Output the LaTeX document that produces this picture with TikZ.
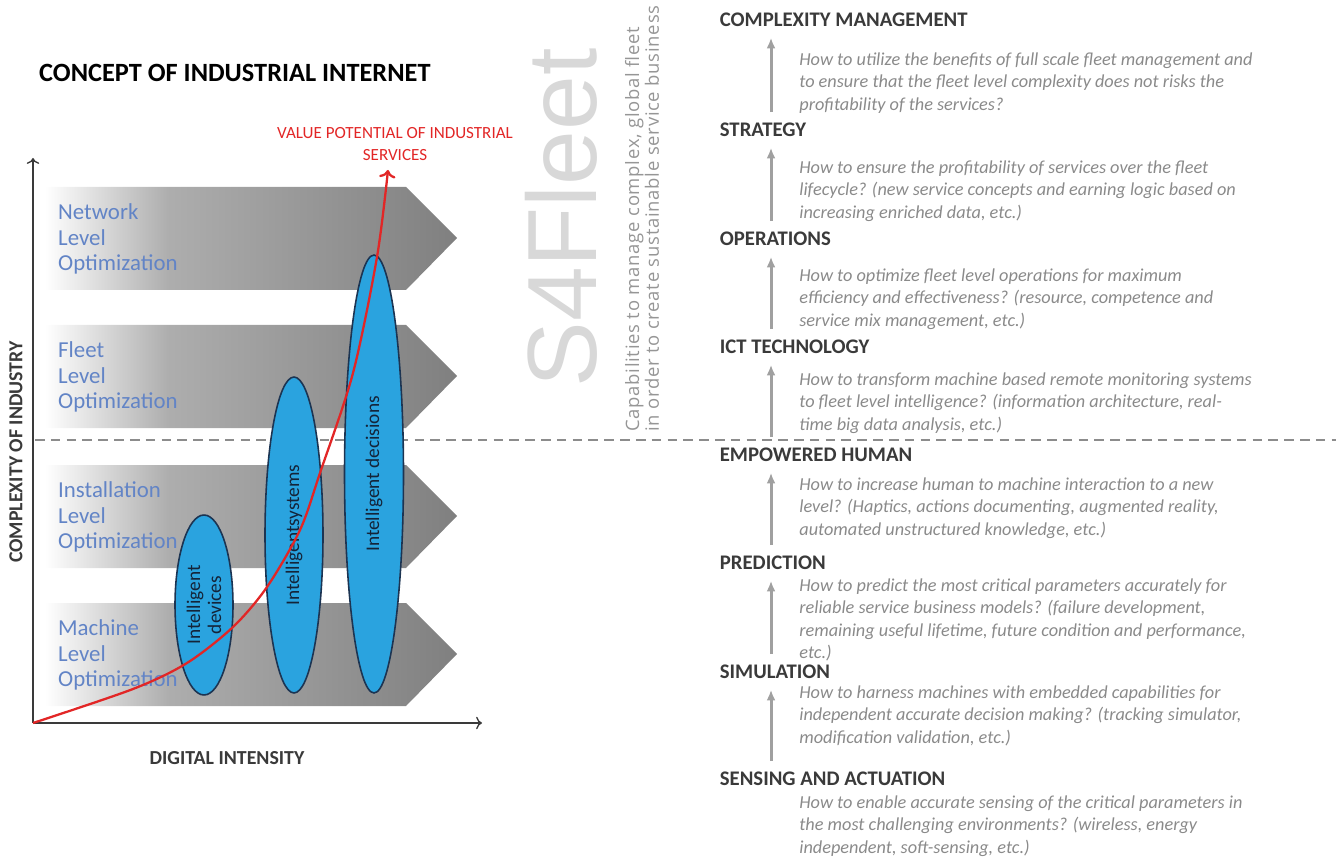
\documentclass[tikz,border=0pt]{standalone}
\usepackage{fontspec}
\setmainfont{Carlito}
\newfontfamily\brandfont{Liberation Sans}
\newfontfamily\mottofont[LetterSpace=4]{Open Sans}
\usetikzlibrary{shapes.geometric,arrows.meta}

\definecolor{bandblue}{RGB}{98,132,198}
\definecolor{blobfill}{RGB}{42,163,223}
\definecolor{blobline}{RGB}{28,52,82}
\definecolor{valred}{RGB}{226,38,38}
\definecolor{headgray}{RGB}{58,58,58}
\definecolor{askgray}{RGB}{138,138,138}
\definecolor{stepgray}{RGB}{160,160,160}
\definecolor{fleetgray}{RGB}{216,216,216}
\definecolor{mottogray}{RGB}{150,150,150}
\definecolor{splitgray}{RGB}{140,140,140}

% white on the left, going grey towards the tip
\pgfdeclarehorizontalshading{bandshade}{100bp}{color(0bp)=(white); color(25bp)=(white); color(40bp)=(black!32); color(75bp)=(black!50); color(100bp)=(black!50)}

\tikzset{
  band/.style={shading=bandshade},
  bandtext/.style={anchor=west, align=left, text=bandblue, font=\fontsize{13}{14.7}\selectfont},
  blob/.style={ellipse, draw=blobline, line width=0.9pt, fill=blobfill, inner sep=0pt, rotate=90},
  blobtext/.style={rotate=90, align=center, text=blobline!70!black, font=\fontsize{11}{12}\selectfont},
  head/.style={anchor=west, inner sep=2pt, text=headgray, font=\bfseries\fontsize{11.8}{13}\selectfont},
  ask/.style={anchor=north west, inner sep=0pt, align=left, text=askgray, font=\itshape\fontsize{10.4}{12.8}\selectfont},
  rise/.style={-{Latex[length=6pt,width=5pt]}, draw=stepgray, line width=1.7pt, shorten <=4pt, shorten >=4pt},
  axislbl/.style={text=headgray, font=\bfseries\fontsize{11.3}{13}\selectfont}
}

\begin{document}
\begin{tikzpicture}[x=0.02cm,y=-0.02cm]
\useasboundingbox (0,0) rectangle (1336,858);

\node[anchor=west, font=\bfseries\fontsize{15}{17}\selectfont] (title) at (33,73) {CONCEPT OF INDUSTRIAL INTERNET};

% the four levels
\foreach \t/\name in {187/Network,325/Fleet,465/Installation,603/Machine} {
\path[band] (45,\t) -- (406,\t) -- (457,\t+51) -- (406,\t+103) -- (45,\t+103) -- cycle;
\node[bandtext] (lvl\name) at (52,\t+52) {\name\\Level\\Optimization};
}

% line between machine and fleet side
\draw[splitgray, line width=1.4pt, dash pattern=on 5.5pt off 3.5pt] (35,440) -- (1336,440);

% axes
\coordinate (o) at (33,723);
\draw[->, headgray, line width=0.8pt] (o) -- (33,158);
\draw[->, headgray, line width=0.8pt] (o) -- (482,723);
\node[axislbl, rotate=90] (ylbl) at (16,452) {COMPLEXITY OF INDUSTRY};
\node[axislbl] (xlbl) at (227,758) {DIGITAL INTENSITY};

% intelligence ellipses
\node[blob, minimum width=3.6cm, minimum height=1.16cm] (devs) at (204,605) {};
\node[blob, minimum width=6.32cm, minimum height=1.16cm] (syst) at (294,535) {};
\node[blob, minimum width=8.76cm, minimum height=1.18cm] (deci) at (374,474) {};
\node[blobtext] at (devs) {Intelligent\\devices};
\node[blobtext] at (syst) {Intelligentsystems};
\node[blobtext] at (deci) {Intelligent decisions};

% value curve
\node[text=valred, align=center, font=\fontsize{9.7}{12.4}\selectfont] (value) at (395,144) {VALUE POTENTIAL OF INDUSTRIAL\\SERVICES};
\draw[valred, line width=1.3pt, ->] plot[smooth] coordinates {(o) (133,689) (187,663) (233,627) (267,587) (300,530) (320,473) (353,373) (377,257) (388,170)};

% S4Fleet
\node[rotate=90, inner sep=0pt, text=fleetgray, font=\brandfont\fontsize{56}{60}\selectfont] (brand) at (561,218) {S4Fleet};
\node[rotate=90, anchor=west, align=left, text=mottogray, font=\mottofont\fontsize{10.5}{11.3}\selectfont] (motto) at (642,438) {Capabilities to manage complex, global fleet\\in order to create sustainable service business};

% capability steps
\foreach \n/\y/\txt in {cm/20/COMPLEXITY MANAGEMENT,st/130/STRATEGY,op/239/OPERATIONS,ict/347/ICT TECHNOLOGY,eh/455/EMPOWERED HUMAN,pr/563/PREDICTION,sim/672/SIMULATION,sens/779/SENSING AND ACTUATION}
\node[head] (\n) at (716,\y) {\txt};

\coordinate (ax) at (771,0);
\foreach \a/\b in {st/cm,op/st,ict/op,eh/ict,pr/eh,sim/pr,sens/sim}
\draw[rise] (\a.north -| ax) -- (\b.south -| ax);

\node[ask] (askcm) at (799,52) {How to utilize the benefits of full scale fleet management and\\to ensure that the fleet level complexity does not risks the\\profitability of the services?};
\node[ask] (askst) at (799,160) {How to ensure the profitability of services over the fleet\\lifecycle? (new service concepts and earning logic based on\\increasing enriched data, etc.)};
\node[ask] (askop) at (799,268) {How to optimize fleet level operations for maximum\\efficiency and effectiveness? (resource, competence and\\service mix management, etc.)};
\node[ask] (askict) at (799,372) {How to transform machine based remote monitoring systems\\to fleet level intelligence? (information architecture, real-\\time big data analysis, etc.)};
\node[ask] (askeh) at (799,477) {How to increase human to machine interaction to a new\\level? (Haptics, actions documenting, augmented reality,\\automated unstructured knowledge, etc.)};
\node[ask] (askpr) at (799,578) {How to predict the most critical parameters accurately for\\reliable service business models? (failure development,\\remaining useful lifetime, future condition and performance,\\etc.)};
\node[ask] (asksim) at (799,685) {How to harness machines with embedded capabilities for\\independent accurate decision making? (tracking simulator,\\modification validation, etc.)};
\node[ask] (asksens) at (799,795) {How to enable accurate sensing of the critical parameters in\\the most challenging environments? (wireless, energy\\independent, soft-sensing, etc.)};

\end{tikzpicture}
\end{document}
